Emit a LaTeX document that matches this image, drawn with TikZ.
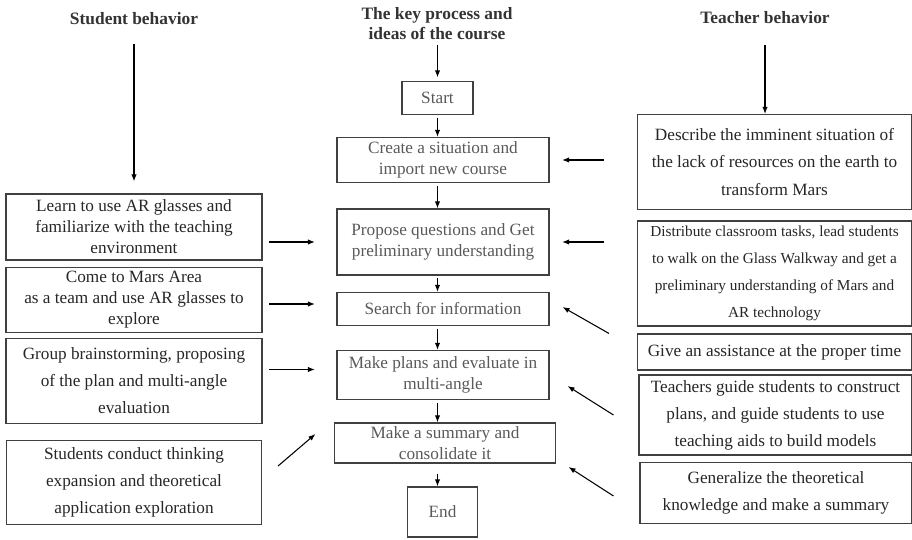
\documentclass[tikz,border=0pt]{standalone}
\usepackage{fontspec}
\setmainfont{Liberation Serif}
\usetikzlibrary{arrows.meta, positioning}
\definecolor{LineGray}{HTML}{404040}
\definecolor{TextGray}{HTML}{595959}
\definecolor{TextDark}{HTML}{262626}
\definecolor{HeadGray}{HTML}{333333}

\begin{document}
\begin{tikzpicture}[
    x=0.02cm, y=-0.02cm,
    head/.style={inner sep=0pt, align=center, font=\fontsize{9.9}{11.4}\selectfont\bfseries, text=HeadGray},
    pbox/.style={rectangle, draw=LineGray, line width=0.6pt, inner sep=0pt, align=center, font=\fontsize{9.8}{12}\selectfont, text=TextGray},
    sbox/.style={pbox, text=TextDark},
    loose/.style={font=\fontsize{9.8}{15.4}\selectfont},
    wh/.style 2 args={minimum width=#1*0.02cm, minimum height=#2*0.02cm},
    arr/.style={-{Latex[length=4pt, width=3pt]}, line width=0.6pt, black},
    carr/.style={arr, shorten <=1.5pt}
  ]
  \useasboundingbox (0,0) rectangle (912,540);

  % column headings
  \node[head] (hStu) at (134,19) {Student behavior};
  \node[head] (hKey) at (437,24) {The key process and\\ideas of the course};
  \node[head] (hTea) at (765,18) {Teacher behavior};

  % key process
  \node[pbox, wh={71}{33}] (start) at (437.5,98) {Start};
  \node[pbox, wh={212}{45}] (create) at (443,160) {Create a situation and\\import new course};
  \node[pbox, wh={212}{66}] (propose) at (443,242) {Propose questions and Get\\preliminary understanding};
  \node[pbox, wh={212}{33}] (search) at (443,309) {Search for information};
  \node[pbox, wh={212}{49}] (plans) at (443,375) {Make plans and evaluate in\\multi-angle};
  \node[pbox, wh={221}{40}] (summary) at (445,443) {Make a summary and\\consolidate it};
  \node[pbox, wh={70}{50}] (endn) at (442.5,512) {End};

  % student behavior
  \node[sbox, wh={256}{66}] (learn) at (134,227) {Learn to use AR glasses and\\familiarize with the teaching\\environment};
  \node[sbox, wh={256}{65}] (come) at (134,300) {Come to Mars Area\\as a team and use AR glasses to\\explore};
  \node[sbox, loose, wh={256}{85}] (group) at (134,381) {Group brainstorming, proposing\\of the plan and multi-angle\\evaluation};
  \node[sbox, loose, wh={255}{84}] (stu) at (134,482.5) {Students conduct thinking\\expansion and theoretical\\application exploration};

  % teacher behavior
  \node[sbox, loose, wh={274}{95}] (desc) at (774.5,162) {Describe the imminent situation of\\the lack of resources on the earth to\\transform Mars};
  \node[sbox, font=\fontsize{8.7}{15.4}\selectfont, wh={274}{105}] (dist) at (774.5,273.5) {Distribute classroom tasks, lead students\\to walk on the Glass Walkway and get a\\preliminary understanding of Mars and\\AR technology};
  \node[sbox, wh={274}{36}] (give) at (774.5,352) {Give an assistance at the proper time};
  \node[sbox, loose, wh={273}{80}] (guide) at (775.5,415) {Teachers guide students to construct\\plans, and guide students to use\\teaching aids to build models};
  \node[sbox, loose, wh={272}{61}] (gen) at (776,493) {Generalize the theoretical\\knowledge and make a summary};

  % heading arrows
  \draw[arr, shorten <=0.38cm, shorten >=0.24cm] (hStu.south) -- (hStu.south |- learn.north);
  \draw[arr, shorten <=0.08cm, shorten >=2pt] (hKey.south -| start) -- (start.north);
  \draw[arr, shorten <=0.42cm] (hTea.south) -- (hTea.south |- desc.north);

  % process chain
  \draw[carr] (start.south) -- (start.south |- create.north);
  \draw[carr] (create.south -| start) -- (propose.north -| start);
  \draw[carr] (propose.south -| start) -- (search.north -| start);
  \draw[carr] (search.south -| start) -- (plans.north -| start);
  \draw[carr] (plans.south -| start) -- (summary.north -| start);
  \draw[carr, shorten <=0.2cm] (summary.south -| start) -- (endn.north -| start);

  % student side
  \draw[arr, shorten <=0.13cm, shorten >=0.43cm] (learn.east |- propose.west) -- (propose.west);
  \draw[arr, shorten <=0.13cm, shorten >=0.43cm] ([yshift=0.1cm]come.east |- search.west) -- ([yshift=0.1cm]search.west);
  \draw[arr, shorten <=0.13cm, shorten >=0.43cm] ([yshift=0.11cm]group.east |- plans.west) -- ([yshift=0.11cm]plans.west);
  \draw[arr] ([xshift=0.32cm, yshift=0.33cm]stu.east) -- ([xshift=-0.37cm, yshift=0.18cm]summary.west);

  % teacher side
  \draw[arr, shorten <=0.66cm, shorten >=0.25cm] (desc.west |- create.east) -- (create.east);
  \draw[arr, shorten <=0.66cm, shorten >=0.25cm] (dist.west |- propose.east) -- (propose.east);
  \draw[arr] ([xshift=-0.56cm]give.north west) -- ([xshift=0.26cm, yshift=0.04cm]search.east);
  \draw[arr] ([xshift=-0.5cm]guide.west) -- ([xshift=0.36cm, yshift=-0.22cm]plans.east);
  \draw[arr] ([xshift=-0.52cm, yshift=-0.06cm]gen.west) -- ([xshift=0.25cm, yshift=-0.48cm]summary.east);
\end{tikzpicture}
\end{document}
